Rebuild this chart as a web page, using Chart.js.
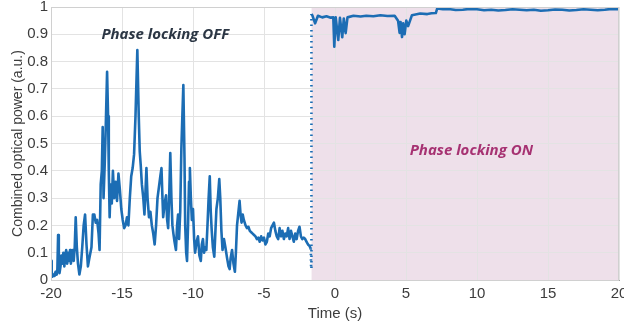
<!DOCTYPE html>
<html>
<head>
<meta charset="utf-8">
<script src="https://cdn.jsdelivr.net/npm/chart.js@4.4.1/dist/chart.umd.min.js"></script>
<style>
  html, body { margin: 0; padding: 0; background: #fff; }
</style>
</head>
<body>
<canvas id="chart" width="624" height="326"></canvas>
<script>
// Phase locking OFF: time (s) and combined power (a.u.)
const timeOff = [-20, -19.95, -19.9, -19.82, -19.75, -19.68, -19.6, -19.55, -19.5, -19.45, -19.4,
  -19.33, -19.27, -19.2, -19.13, -19.06, -19.0, -18.93, -18.86, -18.8, -18.73, -18.66, -18.6,
  -18.53, -18.46, -18.4, -18.33, -18.26, -18.18, -18.1, -18.0, -17.9, -17.8, -17.7, -17.6,
  -17.5, -17.4, -17.3, -17.15, -17.05, -16.95, -16.85, -16.75, -16.65, -16.58, -16.5, -16.42,
  -16.36, -16.3, -16.22, -16.15, -16.05, -15.98, -15.93, -15.87, -15.8, -15.72, -15.64, -15.55,
  -15.45, -15.35, -15.25, -15.15, -15.05, -14.95, -14.85, -14.75, -14.65, -14.55, -14.45, -14.35,
  -14.25, -14.15, -14.05, -13.92, -13.82, -13.75, -13.68, -13.6, -13.5, -13.42, -13.35, -13.28,
  -13.2, -13.1, -13.0, -12.9, -12.8, -12.7, -12.6, -12.5, -12.4, -12.3, -12.22, -12.15, -12.1,
  -12.0, -11.9, -11.82, -11.75, -11.68, -11.6, -11.52, -11.45, -11.38, -11.3, -11.2, -11.12,
  -11.05, -10.98, -10.9, -10.82, -10.75, -10.68, -10.6, -10.55, -10.48, -10.42, -10.35, -10.28,
  -10.22, -10.15, -10.08, -10.0, -9.92, -9.85, -9.75, -9.65, -9.55, -9.45, -9.38, -9.3, -9.22,
  -9.15, -9.06, -8.98, -8.9, -8.82, -8.75, -8.68, -8.6, -8.5, -8.42, -8.35, -8.25, -8.15, -8.08,
  -8.0, -7.92, -7.82, -7.72, -7.6, -7.5, -7.42, -7.35, -7.25, -7.15, -7.05, -6.98, -6.9, -6.8,
  -6.72, -6.65, -6.58, -6.5, -6.42, -6.3, -6.2, -6.1, -6.0, -5.9, -5.8, -5.7, -5.6, -5.5, -5.4,
  -5.3, -5.2, -5.1, -5.0, -4.9, -4.8, -4.7, -4.6, -4.5, -4.4, -4.3, -4.2, -4.1, -4.0, -3.9, -3.8,
  -3.7, -3.6, -3.5, -3.4, -3.3, -3.2, -3.1, -3.0, -2.9, -2.8, -2.7, -2.6, -2.5, -2.4, -2.3, -2.2,
  -2.1, -2.0, -1.9, -1.8, -1.71];
const powerOff = [0.07, 0.03, 0.012, 0.02, 0.015, 0.03, 0.02, 0.04, 0.165, 0.06, 0.025,
  0.05, 0.09, 0.06, 0.1, 0.05, 0.09, 0.11, 0.06, 0.1, 0.07, 0.11, 0.06,
  0.09, 0.11, 0.07, 0.12, 0.23, 0.12, 0.06, 0.02, 0.05, 0.12, 0.2, 0.24,
  0.13, 0.05, 0.08, 0.12, 0.24, 0.24, 0.21, 0.22, 0.17, 0.11, 0.35, 0.4,
  0.56, 0.3, 0.42, 0.55, 0.763, 0.6, 0.4, 0.23, 0.35, 0.28, 0.4, 0.3,
  0.36, 0.29, 0.39, 0.33, 0.26, 0.22, 0.19, 0.2, 0.23, 0.2, 0.3, 0.38,
  0.41, 0.46, 0.6, 0.842, 0.6, 0.47, 0.42, 0.35, 0.3, 0.24, 0.32, 0.41,
  0.3, 0.23, 0.25, 0.2, 0.17, 0.13, 0.2, 0.3, 0.34, 0.38, 0.41, 0.3, 0.23,
  0.28, 0.31, 0.22, 0.19, 0.3, 0.465, 0.3, 0.2, 0.17, 0.14, 0.11, 0.2,
  0.24, 0.15, 0.25, 0.48, 0.6, 0.714, 0.45, 0.2, 0.1, 0.07, 0.2, 0.36,
  0.41, 0.3, 0.22, 0.26, 0.15, 0.1, 0.14, 0.16, 0.09, 0.07, 0.13, 0.15, 0.1,
  0.12, 0.11, 0.2, 0.3, 0.38, 0.25, 0.18, 0.12, 0.085, 0.18, 0.26, 0.3, 0.37, 0.3,
  0.18, 0.11, 0.15, 0.12, 0.08, 0.05, 0.04, 0.08, 0.11, 0.06, 0.03, 0.1, 0.2, 0.25,
  0.29, 0.24, 0.21, 0.24, 0.22, 0.2, 0.19, 0.195, 0.18, 0.175, 0.17, 0.165, 0.16, 0.15, 0.155,
  0.14, 0.16, 0.145, 0.155, 0.13, 0.14, 0.17, 0.16, 0.19, 0.2, 0.21, 0.18, 0.16, 0.15, 0.19, 0.16,
  0.18, 0.15, 0.17, 0.16, 0.19, 0.15, 0.18, 0.16, 0.14, 0.17, 0.15, 0.18, 0.195, 0.16, 0.15, 0.155,
  0.15, 0.14, 0.13, 0.125, 0.116];

// switch-over: dotted jump from the bottom to the locked level
const timeJump = [-1.68, -1.66];
const powerJump = [0.04, 0.974];

// Phase locking ON
const timeOn = [-1.6, -1.4, -1.2, -0.9, -0.6, -0.3, -0.12, -0.05, 0.05, 0.23, 0.35, 0.51, 0.62,
  0.75, 0.88, 1.3, 1.8, 2.2, 2.7, 3.2, 3.7, 4.2, 4.44, 4.55, 4.62, 4.72, 4.8, 4.9, 5.02, 5.15,
  5.42, 6.0, 6.5, 6.8, 7.1, 7.2, 7.6, 8.0, 8.5, 9.0, 9.5, 10.0, 10.5, 11.0, 11.5, 12.0, 12.5,
  13.0, 13.5, 14.0, 14.5, 15.0, 15.5, 16.0, 16.5, 17.0, 17.5, 18.0, 18.5, 19.0, 19.5, 20.0];
const powerOn = [0.97, 0.94, 0.968, 0.962, 0.966, 0.961, 0.962, 0.855, 0.962, 0.879, 0.96, 0.889, 0.958,
  0.904, 0.962, 0.968, 0.965, 0.968, 0.966, 0.97, 0.967, 0.968, 0.95, 0.905, 0.945, 0.89, 0.94, 0.9, 0.95, 0.93,
  0.97, 0.976, 0.974, 0.977, 0.978, 0.995, 0.992, 0.993, 0.989, 0.99, 0.993, 0.992, 0.988, 0.99, 0.987, 0.989, 0.992,
  0.99, 0.988, 0.99, 0.986, 0.988, 0.991, 0.99, 0.987, 0.989, 0.992, 0.99, 0.988, 0.99, 0.993, 0.992];

const lockStart = -1.65;
const xTicks = [-20, -15, -10, -5, 0, 5, 10, 15, 20];
const yTicks = [0, 0.1, 0.2, 0.3, 0.4, 0.5, 0.6, 0.7, 0.8, 0.9, 1];

const times = timeOff.concat(timeJump, timeOn);
const powers = powerOff.concat(powerJump, powerOn);
const points = times.map((t, i) => ({ x: t, y: powers[i] }));
const jumpFrom = timeOff.length - 1;
const jumpTo = timeOff.length + 1;

// pink band behind the locked part, drawn before the grid
const shadePlugin = {
  id: 'shade',
  beforeDraw(chart) {
    const { ctx, chartArea, scales } = chart;
    const x0 = scales.x.getPixelForValue(lockStart);
    ctx.save();
    ctx.fillStyle = '#eee0ea';
    ctx.fillRect(x0, chartArea.top, chartArea.right - x0, chartArea.bottom - chartArea.top);
    ctx.restore();
  },
  afterDraw(chart) {
    const { ctx, chartArea } = chart;
    ctx.save();
    ctx.strokeStyle = '#d0d0d0';
    ctx.lineWidth = 1;
    ctx.strokeRect(chartArea.left + 0.5, chartArea.top + 0.5,
      chartArea.right - chartArea.left - 1, chartArea.bottom - chartArea.top);
    ctx.restore();
  }
};

const labelPlugin = {
  id: 'labels',
  afterDatasetsDraw(chart) {
    const { ctx, scales } = chart;
    ctx.save();
    ctx.font = 'italic bold 15px "Open Sans"';
    ctx.textAlign = 'center';
    ctx.textBaseline = 'middle';
    ctx.fillStyle = '#2b3644';
    ctx.fillText('Phase locking OFF', scales.x.getPixelForValue(-11.95), scales.y.getPixelForValue(0.9));
    ctx.fillStyle = '#a63272';
    ctx.fillText('Phase locking ON', scales.x.getPixelForValue(9.6), scales.y.getPixelForValue(0.473));
    ctx.restore();
  }
};

const tickColor = '#3c3c3c';
const gridColor = '#e3e3e3';

new Chart(document.getElementById('chart'), {
  type: 'line',
  data: {
    datasets: [{
      data: points,
      borderColor: '#1c6db4',
      borderWidth: 2.6,
      borderJoinStyle: 'round',
      pointRadius: 0,
      tension: 0,
      fill: false,
      segment: {
        borderDash: c => (c.p0DataIndex >= jumpFrom && c.p1DataIndex <= jumpTo) ? [1.5, 4] : undefined
      }
    }]
  },
  options: {
    responsive: false,
    animation: false,
    plugins: { legend: { display: false }, tooltip: { enabled: false } },
    layout: { padding: { top: 7, right: 5, left: 0, bottom: 0 } },
    scales: {
      x: {
        type: 'linear',
        min: -20,
        max: 20,
        afterBuildTicks: s => { s.ticks = xTicks.map(v => ({ value: v })); },
        ticks: { color: tickColor, font: { family: 'Liberation Sans', size: 15 }, padding: 5, maxRotation: 0 },
        grid: { color: gridColor, drawTicks: false },
        border: { color: '#a0a0a0' },
        title: { display: true, text: 'Time (s)', color: tickColor,
          font: { family: 'Liberation Sans', size: 15 }, padding: { top: 0, bottom: 3 } },
        afterFit: s => { s.height = 46; s.paddingLeft = 0; s.paddingRight = 0; }
      },
      y: {
        min: 0,
        max: 1,
        afterBuildTicks: s => { s.ticks = yTicks.map(v => ({ value: v })); },
        ticks: { color: tickColor, font: { family: 'Liberation Sans', size: 15 }, padding: 3,
          callback: v => String(Number(v.toFixed(1))) },
        grid: { color: gridColor, drawTicks: false },
        border: { color: '#a0a0a0' },
        title: { display: true, text: 'Combined optical power (a.u.)', color: tickColor,
          font: { family: 'Liberation Sans', size: 14 }, padding: { top: 10, bottom: 0 } },
        afterFit: s => { s.width = 51; s.paddingTop = 0; s.paddingBottom = 0; }
      }
    }
  },
  plugins: [shadePlugin, labelPlugin]
});
</script>
</body>
</html>
